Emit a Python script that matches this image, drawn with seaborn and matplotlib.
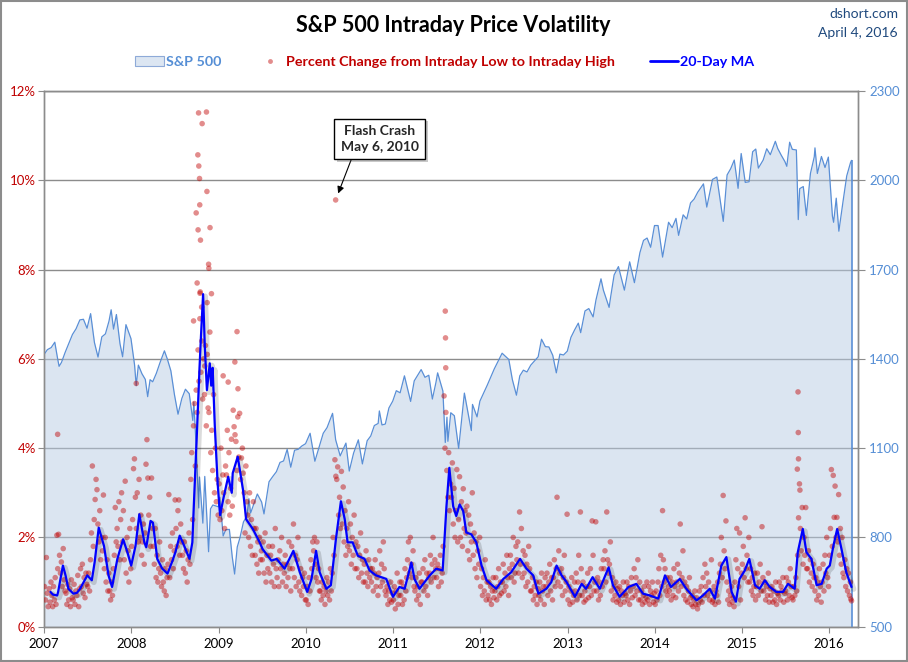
import calendar
import numpy as np
import pandas as pd
import matplotlib
matplotlib.use("Agg")
import matplotlib.pyplot as plt
import matplotlib.dates as mdates
import matplotlib.patheffects as pe
from matplotlib.patches import Patch, Rectangle
from matplotlib.lines import Line2D
import seaborn as sns

# ---------------- DATA ----------------
# S&P 500 level (right axis)
sp_dates = [
 "2007-01-03","2007-01-15","2007-01-31","2007-02-15","2007-02-27","2007-03-05","2007-03-15","2007-03-30",
 "2007-04-15","2007-04-30","2007-05-15","2007-05-31","2007-06-15","2007-06-30","2007-07-15","2007-07-31",
 "2007-08-15","2007-08-31","2007-09-15","2007-09-30","2007-10-09","2007-10-19","2007-10-31","2007-11-15",
 "2007-11-26","2007-12-10","2007-12-31",
 "2008-01-15","2008-01-22","2008-01-31","2008-02-15","2008-02-29","2008-03-10","2008-03-20","2008-03-31",
 "2008-04-15","2008-04-30","2008-05-19","2008-05-31","2008-06-15","2008-06-30","2008-07-15","2008-07-31",
 "2008-08-15","2008-08-31","2008-09-15","2008-09-19","2008-09-29","2008-10-10","2008-10-13","2008-10-27",
 "2008-11-04","2008-11-20","2008-11-28","2008-12-08","2008-12-31",
 "2009-01-06","2009-01-20","2009-01-31","2009-02-15","2009-02-27","2009-03-09","2009-03-20","2009-03-31",
 "2009-04-15","2009-04-30","2009-05-08","2009-05-15","2009-05-31","2009-06-12","2009-06-30","2009-07-10",
 "2009-07-31","2009-08-15","2009-08-31","2009-09-15","2009-09-30","2009-10-15","2009-10-30","2009-11-15",
 "2009-11-30","2009-12-15","2009-12-31",
 "2010-01-19","2010-02-08","2010-02-26","2010-03-15","2010-03-31","2010-04-23","2010-05-06","2010-05-25",
 "2010-06-18","2010-07-02","2010-07-20","2010-08-09","2010-08-26","2010-09-15","2010-09-30","2010-10-15",
 "2010-10-31","2010-11-05","2010-11-16","2010-11-30","2010-12-15","2010-12-31",
 "2011-01-15","2011-01-31","2011-02-18","2011-03-16","2011-03-31","2011-04-29","2011-05-15","2011-05-31",
 "2011-06-15","2011-06-30","2011-07-07","2011-07-29","2011-08-08","2011-08-15","2011-08-19","2011-08-31",
 "2011-09-15","2011-10-03","2011-10-27","2011-11-25","2011-11-30","2011-12-19","2011-12-31",
 "2012-01-31","2012-02-29","2012-04-02","2012-04-30","2012-05-15","2012-06-01","2012-06-15","2012-06-30",
 "2012-07-15","2012-07-31","2012-08-31","2012-09-14","2012-09-30","2012-10-15","2012-10-31","2012-11-15",
 "2012-11-30","2012-12-15","2012-12-31",
 "2013-01-15","2013-01-31","2013-02-15","2013-02-25","2013-03-15","2013-03-31","2013-04-18","2013-04-30",
 "2013-05-21","2013-05-31","2013-06-24","2013-06-30","2013-07-15","2013-08-02","2013-08-27","2013-09-18",
 "2013-10-08","2013-10-31","2013-11-15","2013-11-30","2013-12-15","2013-12-31",
 "2014-01-15","2014-02-03","2014-02-28","2014-03-15","2014-03-31","2014-04-11","2014-04-30","2014-05-15",
 "2014-05-31","2014-06-15","2014-06-30","2014-07-24","2014-08-07","2014-08-31","2014-09-18","2014-10-15",
 "2014-10-31","2014-11-15","2014-11-30","2014-12-16","2014-12-29",
 "2015-01-15","2015-01-31","2015-02-15","2015-02-28","2015-03-11","2015-03-31","2015-04-15","2015-04-30",
 "2015-05-21","2015-05-31","2015-06-15","2015-06-30","2015-07-08","2015-07-20","2015-07-31","2015-08-17",
 "2015-08-25","2015-08-31","2015-09-15","2015-09-28","2015-10-15","2015-10-31","2015-11-03","2015-11-13",
 "2015-11-30","2015-12-15","2015-12-29",
 "2016-01-15","2016-01-20","2016-01-31","2016-02-11","2016-02-29","2016-03-15","2016-03-31","2016-04-04"]
sp_vals = [
 1417,1431,1438,1456,1400,1375,1388,1421,
 1452,1482,1501,1531,1533,1503,1552,1455,
 1406,1474,1484,1527,1565,1500,1549,1451,
 1407,1515,1468,
 1380,1310,1379,1350,1331,1273,1330,1323,
 1351,1386,1427,1400,1360,1280,1214,1267,
 1298,1283,1193,1255,1106,899,1003,848,
 1005,752,896,909,903,
 935,805,826,827,735,677,768,798,
 852,873,930,882,919,946,919,879,
 987,1004,1021,1052,1057,1096,1036,1093,
 1096,1107,1115,
 1150,1056,1104,1150,1169,1217,1128,1074,
 1117,1023,1083,1128,1047,1125,1141,1176,
 1183,1225,1178,1181,1235,1258,
 1293,1286,1343,1257,1326,1364,1338,1345,
 1265,1321,1353,1292,1119,1204,1123,1219,
 1209,1099,1285,1159,1247,1205,1258,
 1312,1366,1419,1398,1330,1278,1343,1362,
 1356,1379,1407,1466,1441,1440,1412,1353,
 1416,1413,1426,
 1472,1498,1520,1488,1561,1569,1541,1598,
 1669,1631,1573,1606,1682,1710,1631,1726,
 1656,1757,1798,1806,1775,1848,
 1848,1742,1859,1841,1872,1815,1884,1870,
 1924,1937,1960,1988,1910,2003,2011,1862,
 2018,2039,2068,1973,2090,
 1993,1995,2096,2105,2041,2068,2106,2086,
 2131,2107,2084,2063,2047,2128,2104,2102,
 1868,1972,1979,1882,2023,2079,2109,2023,
 2080,2043,2078,
 1880,1859,1940,1829,1932,2015,2060,2067]

# 20-day moving average of the intraday range (%)
ma_dates = [
 "2007-01-28","2007-02-07","2007-02-25","2007-03-01","2007-03-21","2007-04-01","2007-04-13","2007-05-04",
 "2007-05-19","2007-06-01","2007-06-16","2007-07-01","2007-07-20","2007-08-01","2007-08-18","2007-09-09",
 "2007-09-28","2007-10-13","2007-11-04","2007-11-28","2007-12-16",
 "2008-01-01","2008-01-19","2008-02-04","2008-02-25","2008-03-04","2008-03-22","2008-04-01","2008-04-19",
 "2008-05-10","2008-06-01","2008-06-22","2008-07-04","2008-07-22","2008-08-10","2008-09-01","2008-09-13",
 "2008-09-19","2008-10-01","2008-10-13","2008-10-19","2008-10-28","2008-11-04","2008-11-13","2008-11-19",
 "2008-11-25","2008-12-01","2008-12-07","2008-12-16","2008-12-28",
 "2009-01-07","2009-01-22","2009-02-10","2009-02-25","2009-03-01","2009-03-22","2009-04-13","2009-04-26",
 "2009-05-24","2009-06-22","2009-07-04","2009-08-10","2009-09-01","2009-10-04","2009-11-10","2009-12-07",
 "2010-01-07","2010-01-25","2010-02-13","2010-02-28","2010-03-28","2010-04-16","2010-05-07","2010-05-28",
 "2010-06-13","2010-06-25","2010-07-16","2010-08-07","2010-09-04","2010-09-25","2010-10-22","2010-12-04",
 "2011-01-01","2011-01-28","2011-02-19","2011-03-19","2011-04-01","2011-04-22","2011-06-04","2011-07-01",
 "2011-07-28","2011-08-13","2011-08-25","2011-09-10","2011-09-23","2011-10-07","2011-10-22","2011-11-04",
 "2011-11-25","2011-12-16",
 "2012-01-07","2012-01-28","2012-03-08","2012-04-07","2012-05-10","2012-06-16","2012-07-13","2012-08-10",
 "2012-09-01","2012-10-04","2012-10-25","2012-11-16","2012-12-07","2012-12-28",
 "2013-02-01","2013-03-01","2013-03-19","2013-04-16","2013-05-16","2013-06-22","2013-07-10","2013-08-07",
 "2013-09-13","2013-10-16","2013-11-13","2013-12-11",
 "2014-01-16","2014-02-13","2014-03-10","2014-04-16","2014-05-13","2014-06-25","2014-07-22","2014-08-19",
 "2014-09-10","2014-10-07","2014-10-28","2014-11-19","2014-12-07","2014-12-22",
 "2015-01-13","2015-02-01","2015-02-25","2015-03-16","2015-04-07","2015-04-28","2015-05-25","2015-06-22",
 "2015-07-13","2015-08-10","2015-08-23","2015-09-13","2015-09-28","2015-10-19","2015-11-10","2015-12-01",
 "2015-12-22","2016-01-04","2016-01-19","2016-02-04","2016-02-22","2016-03-13","2016-04-04"]
ma_vals = [
 0.78,0.72,0.70,0.78,1.37,1.15,0.85,0.74,
 0.76,0.85,1.00,1.15,1.04,1.45,2.22,1.81,
 1.15,0.89,1.52,1.96,1.67,
 1.37,1.81,2.52,1.89,1.78,2.37,2.33,1.52,
 1.30,1.19,1.48,1.67,2.04,1.81,1.52,1.89,
 2.70,4.20,5.80,6.50,7.45,6.30,5.30,5.60,
 5.90,5.40,5.80,4.50,3.20,
 2.50,2.90,3.36,3.00,3.44,3.81,3.07,2.41,
 2.19,1.89,1.74,1.48,1.52,1.30,1.70,1.22,
 0.78,1.07,1.70,1.22,0.85,0.93,1.96,2.81,
 2.41,1.89,1.89,1.59,1.52,1.26,1.15,1.07,
 0.67,0.89,0.85,1.44,1.07,0.85,1.15,1.30,
 1.26,2.70,3.56,2.70,2.48,2.74,2.59,2.11,
 2.07,1.89,
 1.37,1.04,0.85,1.07,1.22,1.52,1.30,1.15,
 0.74,0.85,1.00,1.37,1.15,1.00,
 0.67,0.96,0.85,1.11,0.85,1.33,0.93,0.67,
 0.89,0.96,0.74,0.70,
 0.63,1.15,0.89,1.07,0.85,0.59,0.70,0.85,
 0.63,1.37,1.56,0.78,0.56,1.07,
 1.26,1.52,0.93,0.85,1.04,0.89,0.78,0.78,
 0.96,0.85,1.67,2.19,1.67,1.52,0.93,0.96,
 1.30,1.37,1.81,2.19,1.74,1.22,0.89]

# Daily intraday low-to-high range (%), sampled values read per month
range_2007 = [
 [0.90,0.60,1.55,0.75,0.45,0.85,0.55,1.00],
 [0.70,0.45,0.90,0.60,1.10,0.50,2.05,1.30],
 [2.07,1.60,1.20,1.45,0.90,1.75,1.05,0.80],
 [0.75,0.50,0.95,0.60,0.85,0.45,1.05,0.65],
 [0.60,0.95,0.50,0.80,0.70,1.15,0.45,0.85],
 [1.30,0.90,1.40,0.75,1.10,0.65,1.20,0.95],
 [0.90,1.20,0.80,1.50,2.10,3.60,1.80,2.40],
 [2.85,3.30,3.07,2.30,1.90,2.60,1.50,2.00],
 [1.70,2.95,1.30,2.00,1.00,1.50,0.80,1.20],
 [0.80,0.60,1.00,0.70,1.30,1.60,2.67,1.90],
 [2.20,1.80,2.80,1.50,2.40,3.00,1.90,2.60],
 [1.50,3.26,1.20,2.00,1.70,1.00,2.20,1.30]]
range_2008 = [
 [1.80,2.40,3.54,3.76,2.90,2.20,3.00,1.90],
 [3.30,2.00,2.50,1.60,1.90,2.30,1.40,2.10],
 [3.64,4.19,3.33,2.50,2.90,1.80,3.33,2.20],
 [1.80,1.40,2.20,1.10,1.60,1.00,1.30,1.90],
 [1.20,0.90,1.50,1.00,0.80,1.30,0.70,1.10],
 [1.40,2.96,1.10,1.80,1.50,2.10,1.30,1.70],
 [2.84,2.20,1.80,2.60,2.84,1.60,2.30,1.90],
 [1.60,1.30,1.90,1.20,1.70,1.00,1.50,2.10],
 [1.40,3.30,3.90,2.40,4.50,5.00,3.60,5.30],
 [4.80,6.20,5.50,6.90,5.70,6.40,5.10,6.00],
 [5.20,6.30,4.50,6.10,4.90,4.80,6.60,3.90],
 [4.40,3.50,5.20,3.00,4.00,2.80,3.30,2.50]]
range_2009 = [
 [3.20,2.40,4.00,2.60,3.40,3.00,2.20,3.60],
 [3.40,4.40,2.80,3.90,2.50,3.10,4.20,2.70],
 [4.85,4.48,4.30,4.15,3.50,4.70,3.80,4.78],
 [3.30,3.78,4.00,3.44,3.00,2.10,3.60,2.80],
 [2.50,2.00,3.00,1.80,2.40,1.60,2.80,2.20],
 [1.60,2.20,1.40,1.90,1.20,2.00,1.50,1.70],
 [1.50,1.90,1.20,2.10,1.00,1.60,1.30,1.80],
 [1.20,1.60,1.00,1.80,1.40,0.90,2.20,1.30],
 [1.10,1.50,0.90,1.70,1.30,2.00,1.00,1.40],
 [1.20,1.60,0.90,1.40,1.10,1.90,1.30,0.80],
 [1.80,1.30,2.30,1.10,1.60,0.90,1.50,2.00],
 [1.00,0.80,1.30,0.70,1.10,0.90,1.20,0.60]]
range_2010 = [
 [0.60,0.90,0.50,1.10,0.80,1.50,1.30,1.90],
 [1.70,2.00,1.40,1.10,1.90,1.00,1.30,0.80],
 [0.80,0.60,1.00,0.70,0.90,0.50,0.80,1.10],
 [0.70,1.00,0.60,1.30,0.80,1.20,2.00,1.60],
 [3.74,3.37,3.30,3.58,2.50,2.90,2.20,3.48],
 [2.30,3.13,1.90,2.60,1.60,2.20,1.80,2.80],
 [1.70,2.30,1.40,2.00,1.60,2.50,1.30,1.90],
 [1.30,1.80,1.10,1.60,2.10,1.20,1.50,1.00],
 [1.40,1.00,1.70,1.20,0.90,1.50,1.10,1.30],
 [1.00,1.30,0.80,1.20,1.50,0.90,1.10,0.70],
 [1.20,1.70,0.90,1.40,1.00,1.90,1.30,0.80],
 [0.70,0.90,0.50,0.80,0.60,1.00,0.55,0.75]]
range_2011 = [
 [0.60,0.90,0.40,0.80,1.20,0.50,0.70,1.00],
 [0.70,1.00,0.50,0.90,0.60,1.30,0.80,1.10],
 [1.50,1.90,1.20,2.00,1.40,1.10,1.70,0.90],
 [0.80,1.10,0.60,0.90,0.70,1.20,0.50,1.00],
 [1.00,1.30,0.80,1.50,0.90,1.20,0.70,1.10],
 [1.20,1.60,1.00,1.40,2.00,1.10,1.50,1.30],
 [1.10,1.40,0.90,1.30,1.60,1.00,1.20,1.80],
 [5.17,4.00,4.80,3.50,2.90,3.90,2.60,3.20],
 [2.90,3.67,2.30,3.10,2.00,2.60,3.52,1.90],
 [2.40,3.36,2.00,2.80,1.80,3.09,2.20,2.60],
 [2.10,2.70,1.70,2.50,1.50,2.30,1.90,3.00],
 [1.60,2.10,1.30,1.90,1.10,1.70,1.40,2.00]]
range_2012 = [
 [0.90,1.30,0.70,1.10,0.80,1.50,0.60,1.00],
 [0.70,1.00,0.60,0.90,0.50,0.80,1.10,0.65],
 [0.80,1.10,0.60,0.90,1.30,0.70,1.00,0.75],
 [1.00,1.40,0.80,1.20,0.90,1.60,1.10,0.70],
 [1.30,1.60,1.10,1.40,2.00,1.00,1.20,1.80],
 [1.50,1.90,1.20,2.57,1.40,2.20,1.10,1.70],
 [1.20,1.60,0.90,1.40,1.00,1.80,1.30,0.80],
 [0.80,1.10,0.60,0.90,0.70,1.00,0.50,0.85],
 [0.70,1.00,0.60,1.20,0.80,0.90,0.50,1.10],
 [0.90,1.20,0.70,1.00,1.40,0.80,1.10,0.60],
 [1.10,1.50,0.90,1.30,2.90,1.00,1.70,1.20],
 [0.90,1.30,0.70,1.10,1.60,0.80,1.00,2.52]]
range_2013 = [
 [0.60,0.90,0.50,0.80,1.10,0.55,0.70,1.00],
 [0.80,1.20,0.60,1.00,1.60,0.70,2.57,1.30],
 [0.70,1.00,0.55,0.80,0.60,0.90,1.20,0.65],
 [0.90,1.30,0.70,2.37,1.60,0.80,1.00,2.35],
 [0.80,1.10,0.60,1.00,0.70,1.30,0.90,1.50],
 [1.30,1.70,1.00,2.57,1.50,1.20,1.40,1.90],
 [0.80,1.10,0.60,0.90,0.70,1.00,0.55,0.85],
 [0.60,0.90,0.50,0.80,0.70,1.00,0.55,0.75],
 [0.70,1.00,0.60,0.90,0.50,0.80,1.10,0.65],
 [0.90,1.30,0.70,1.10,0.80,1.50,0.60,1.00],
 [0.60,0.80,0.50,0.70,0.90,0.55,0.65,1.00],
 [0.60,0.90,0.50,0.80,0.70,1.00,0.55,0.75]]
range_2014 = [
 [0.50,0.80,0.60,1.00,1.30,0.70,1.60,0.90],
 [2.60,1.50,1.00,1.30,0.80,1.10,0.70,0.90],
 [0.80,1.10,0.60,1.00,0.70,1.30,0.90,0.65],
 [1.00,1.40,0.80,1.20,2.30,0.90,1.10,1.70],
 [0.70,1.00,0.60,0.90,0.55,0.80,1.10,0.65],
 [0.50,0.70,0.45,0.60,0.80,0.50,0.65,0.40],
 [0.50,0.80,0.60,0.90,0.55,1.10,0.70,1.40],
 [0.90,1.20,0.70,1.00,0.60,0.80,1.50,0.55],
 [0.60,0.90,0.50,0.80,0.70,1.00,0.55,1.20],
 [1.40,2.00,1.10,2.94,1.70,1.30,2.37,1.00],
 [0.60,0.80,0.50,0.70,0.90,0.55,0.65,0.45],
 [1.00,1.50,2.20,1.30,0.90,2.10,0.60,1.20]]
range_2015 = [
 [1.40,1.80,1.10,2.44,1.30,1.60,1.00,2.00],
 [1.00,1.30,0.80,1.10,0.70,0.90,1.20,0.60],
 [0.90,1.20,0.70,1.00,1.40,0.80,2.24,1.10],
 [0.80,1.00,0.60,0.90,0.70,1.20,0.55,0.85],
 [0.70,0.90,0.55,0.80,0.60,1.00,0.50,0.75],
 [0.70,1.00,0.60,0.90,0.80,1.10,0.55,0.75],
 [0.80,1.10,0.60,1.00,0.70,1.30,0.90,0.65],
 [0.60,0.90,0.70,1.10,0.80,1.60,2.44,3.20],
 [2.20,1.70,2.67,1.40,2.00,1.60,2.67,1.30],
 [1.30,1.70,1.00,1.50,1.20,0.90,1.40,1.10],
 [0.80,1.10,0.60,1.00,0.70,1.30,0.90,0.55],
 [1.00,1.40,0.80,1.60,1.20,2.00,1.10,0.90]]
range_2016 = [
 [1.60,2.20,3.52,1.80,3.39,2.45,3.15,2.00],
 [2.45,1.90,2.96,1.60,2.20,1.40,2.00,1.20],
 [1.10,1.50,0.90,1.30,0.80,1.20,0.70,1.00]]

# Individual extreme days (%)
extreme_dates = [
 "2007-02-27","2008-01-22","2008-09-18","2008-09-29","2008-10-03","2008-10-06","2008-10-07",
 "2008-10-09","2008-10-10","2008-10-13","2008-10-14","2008-10-15","2008-10-16","2008-10-17",
 "2008-10-22","2008-10-24","2008-11-04","2008-11-11","2008-11-13","2008-11-14","2008-11-20",
 "2008-11-21","2008-11-26","2008-12-02","2009-01-20","2009-02-10","2009-03-10","2009-03-19",
 "2009-03-23","2010-05-06","2011-08-08","2011-08-09","2011-08-10","2015-08-21","2015-08-24",
 "2015-08-25","2015-08-26","2015-09-01","2016-04-01","2016-04-04"]
extreme_vals = [
 4.31,5.45,6.85,9.27,7.70,10.57,8.89,
 11.51,10.32,10.04,9.45,7.47,7.50,8.66,
 7.16,11.27,5.84,11.53,9.75,7.26,8.12,
 8.03,8.94,7.46,5.62,5.48,5.93,6.61,
 5.33,9.56,7.07,6.47,5.80,3.53,5.26,
 4.35,3.76,3.06,0.62,0.58]

flash_date = "2010-05-06"
flash_val = 9.56

# ---------------- BUILD DAILY-SAMPLE TABLE ----------------
pts_d, pts_v = [], []
for year, months in zip(range(2007, 2017),
                        [range_2007, range_2008, range_2009, range_2010, range_2011,
                         range_2012, range_2013, range_2014, range_2015, range_2016]):
    for mi, vals in enumerate(months):
        mo = mi + 1
        ndays = calendar.monthrange(year, mo)[1]
        start = pd.Timestamp(year, mo, 1)
        n = len(vals)
        for i, v in enumerate(vals):
            pts_d.append(start + pd.Timedelta(days=(i + 0.5) * ndays / n))
            pts_v.append(v)
pts_d += list(pd.to_datetime(extreme_dates))
pts_v += extreme_vals
scatter_df = pd.DataFrame({"date": pts_d, "pct": pts_v})
sp_df = pd.DataFrame({"date": pd.to_datetime(sp_dates), "sp": sp_vals})
ma_df = pd.DataFrame({"date": pd.to_datetime(ma_dates), "ma": ma_vals})

# ---------------- STYLE ----------------
sns.set_style("white")
plt.rcParams["font.family"] = ["Lato", "DejaVu Sans"]

RED = "#c00000"
BLUE_MA = "#0000ff"
SP_LINE = "#5a8fd6"
SP_LABEL = "#558ed5"
GRID_D = "#8c8c8c"
GRID_L = "#cccccc"

fig = plt.figure(figsize=(9.08, 6.62), dpi=100)
ax = fig.add_axes([0.0485, 0.0533, 0.8964, 0.8092])
ax2 = ax.twinx()
ax.set_zorder(3)
ax2.set_zorder(1)
ax.patch.set_visible(False)

# S&P area (right axis)
ax2.fill_between(sp_df["date"], 500, sp_df["sp"], color="#b9cde5", alpha=0.5, lw=0, zorder=2)
sns.lineplot(data=sp_df, x="date", y="sp", ax=ax2, color=SP_LINE, lw=0.9, zorder=3)
ax2.vlines(sp_df["date"].iloc[-1], 500, sp_df["sp"].iloc[-1], color=SP_LINE, lw=1.2, zorder=3)

ax2.set_ylim(500, 2300)
ax2.set_yticks(np.arange(500, 2301, 300))
ax2.set_axisbelow(True)
ax2.xaxis.set_major_locator(mdates.YearLocator())
ax2.xaxis.set_minor_locator(mdates.MonthLocator())
ax2.grid(which="minor", axis="x", color=GRID_L, lw=0.9)
ax2.grid(which="major", axis="x", color=GRID_D, lw=1.0)
ax2.grid(which="major", axis="y", color=GRID_D, lw=1.0)

# scatter + MA (left axis)
sns.scatterplot(data=scatter_df, x="date", y="pct", ax=ax, color=RED, alpha=0.45,
                s=16, edgecolor="none", zorder=4, legend=False)
sns.lineplot(data=ma_df, x="date", y="ma", ax=ax, color=BLUE_MA, lw=1.6, zorder=5)
ax.lines[-1].set_path_effects([pe.SimpleLineShadow(offset=(1.5, -1.5), shadow_color="black",
                                                   alpha=0.14, linewidth=4), pe.Normal()])

ax.set_ylim(0, 12)
ax.set_yticks(np.arange(0, 13, 2))
ax.set_yticklabels([f"{v}%" for v in range(0, 13, 2)])
ax.set_xlim(pd.Timestamp("2007-01-01"), pd.Timestamp("2016-05-01"))
ax.xaxis.set_major_locator(mdates.YearLocator())
ax.xaxis.set_major_formatter(mdates.DateFormatter("%Y"))
ax.xaxis.set_minor_locator(mdates.MonthLocator())
ax.set_xlabel("")
ax.set_ylabel("")
ax2.set_ylabel("")
ax2.set_xlabel("")

for a in (ax, ax2):
    for s in a.spines.values():
        s.set_color(GRID_D)
        s.set_linewidth(1.0)
ax.tick_params(axis="y", which="major", length=4, color=GRID_D, labelcolor=RED,
               labelsize=9.5, pad=2, left=True)
ax.tick_params(axis="x", which="major", length=4, color=GRID_D, labelcolor="black",
               labelsize=9.5, pad=4, bottom=True)
ax.tick_params(axis="x", which="minor", length=0)
ax2.tick_params(axis="y", length=5, color=GRID_D, labelcolor=SP_LABEL, labelsize=9.5, pad=3, right=True)
ax2.tick_params(axis="x", which="both", length=0, labelbottom=False)

# annotation
ann = ax.annotate("Flash Crash\nMay 6, 2010",
                  xy=(pd.Timestamp(flash_date), flash_val),
                  xytext=(pd.Timestamp("2010-11-06"), 10.93), textcoords="data",
                  ha="center", va="center", fontsize=10, fontweight="bold", linespacing=1.4,
                  bbox=dict(boxstyle="square,pad=0.45", fc="white", ec="black", lw=1.0),
                  arrowprops=dict(arrowstyle="-|>", color="black", lw=0.8, relpos=(0.17, 0.0),
                                  shrinkA=0, shrinkB=5, mutation_scale=10),
                  zorder=10)
ann.get_bbox_patch().set_path_effects([pe.SimplePatchShadow(offset=(2, -2), alpha=0.3), pe.Normal()])

# titles
fig.text(0.499, 0.962, "S&P 500 Intraday Price Volatility", ha="center", va="center",
         fontsize=15.5, fontweight="bold", color="black")
fig.text(0.989, 0.979, "dshort.com", ha="right", va="center", fontsize=10, color="#1f497d")
fig.text(0.989, 0.950, "April 4, 2016", ha="right", va="center", fontsize=10, color="#1f497d")

# legend
handles = [Patch(facecolor="#dce6f2", edgecolor="#8eaad8", lw=0.8),
           Line2D([], [], marker="o", ls="", color=RED, alpha=0.45, markersize=3.5, markeredgewidth=0),
           Line2D([], [], color=BLUE_MA, lw=2)]
labels = ["S&P 500", "Percent Change from Intraday Low to Intraday High", "20-Day MA"]
fig.legend(handles, labels, loc="center", bbox_to_anchor=(0.49, 0.906), ncol=3,
           frameon=False, handlelength=2.0, handletextpad=0.15,
           columnspacing=2.4, labelcolor=[SP_LABEL, RED, BLUE_MA],
           prop={"weight": "bold", "size": 10.3})

fig.patches.append(Rectangle((0.001, 0.001), 0.998, 0.998, transform=fig.transFigure,
                             fill=False, ec="#8c8c8c", lw=1.5))

fig.savefig("out.png", dpi=100, facecolor="white")
